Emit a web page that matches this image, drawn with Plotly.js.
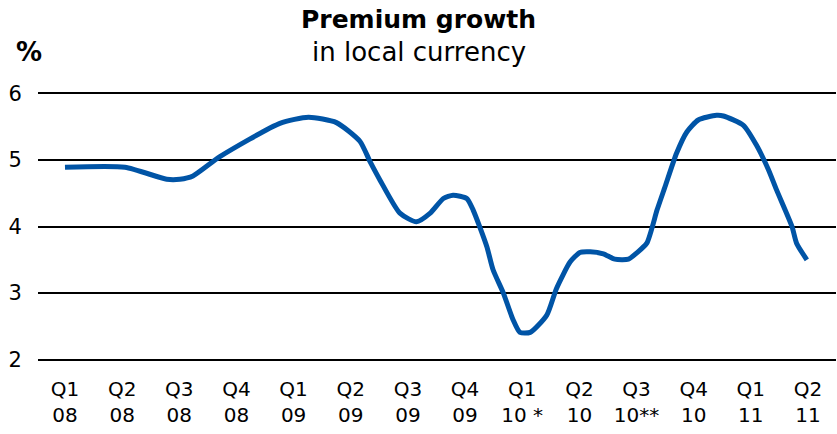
<!DOCTYPE html>
<html>
<head>
<meta charset="utf-8">
<script src="https://cdn.plot.ly/plotly-3.0.1.min.js"></script>
<style>html,body{margin:0;padding:0;background:#fff;}#chart{width:837px;height:434px;}</style>
</head>
<body>
<div id="chart"></div>
<script>
// Tick labels (quarter / year)
const quarterLabels = ['Q1','Q2','Q3','Q4','Q1','Q2','Q3','Q4','Q1','Q2','Q3','Q4','Q1','Q2'];
const yearLabels = ['08','08','08','08','09','09','09','09','10 *','10','10**','10','11','11'];
const tickPositions = [0,1,2,3,4,5,6,7,8,9,10,11,12,13];

// Series: time in quarters since Q1 08, premium growth (%)
const timeQ = [0.00,1.05,1.78,2.01,2.24,2.71,3.76,4.26,4.75,5.16,5.34,5.51,5.86,6.15,6.39,6.62,6.79,7.03,7.14,7.38,7.49,7.67,7.84,7.96,8.14,8.43,8.60,8.84,9.01,9.19,9.42,9.62,9.86,10.00,10.18,10.36,10.50,10.70,10.88,11.08,11.40,11.52,11.87,12.10,12.31,12.45,12.72,12.80,12.98];
const growth = [4.89,4.89,4.71,4.71,4.76,5.05,5.55,5.64,5.56,5.28,4.97,4.70,4.20,4.07,4.20,4.42,4.47,4.42,4.25,3.70,3.35,3.00,2.60,2.41,2.41,2.67,3.07,3.47,3.61,3.62,3.59,3.51,3.51,3.60,3.75,4.25,4.60,5.10,5.42,5.60,5.67,5.66,5.52,5.22,4.85,4.55,4.00,3.75,3.50];

const yTicks = [2,3,4,5,6];

const FONT = 'DejaVu Sans, Verdana, sans-serif';
const ticktext = quarterLabels.map((q,i)=> q + '<br>' + yearLabels[i]);

const trace = {
  x: timeQ, y: growth, type: 'scatter', mode: 'lines',
  line: {color: '#0054A6', width: 5, shape: 'spline', smoothing: 0.6},
  hoverinfo: 'none'
};

const layout = {
  width: 837, height: 434,
  margin: {l: 38, r: 1, t: 92, b: 73},
  paper_bgcolor: '#fff', plot_bgcolor: '#fff',
  showlegend: false,
  font: {family: FONT, color: '#000'},
  xaxis: {
    range: [-0.472, 13.49], tickmode: 'array', tickvals: tickPositions, ticktext: ticktext,
    showgrid: false, zeroline: false, showline: false,
    ticks: 'outside', ticklen: 10, tickcolor: 'rgba(0,0,0,0)',
    tickfont: {family: FONT, size: 20, color: '#000'}
  },
  yaxis: {
    range: [1.98, 6.02], tickmode: 'array', tickvals: yTicks,
    showgrid: true, gridcolor: '#000', gridwidth: 2,
    zeroline: false, showline: false,
    ticks: 'outside', ticklen: 11, tickcolor: 'rgba(0,0,0,0)',
    tickfont: {family: FONT, size: 21, color: '#000'}
  },
  annotations: [
    {text: '<b>Premium growth</b>', xref: 'paper', yref: 'paper', x: 0.4774, y: 1.268,
     xanchor: 'center', yanchor: 'middle', showarrow: false, font: {family: FONT, size: 25, color: '#000'}},
    {text: 'in local currency', xref: 'paper', yref: 'paper', x: 0.4774, y: 1.149,
     xanchor: 'center', yanchor: 'middle', showarrow: false, font: {family: FONT, size: 26, color: '#000'}},
    {text: '<b>%</b>', xref: 'paper', yref: 'paper', x: -0.0119, y: 1.149,
     xanchor: 'center', yanchor: 'middle', showarrow: false, font: {family: FONT, size: 26, color: '#000'}}
  ]
};

Plotly.newPlot('chart', [trace], layout, {staticPlot: true, displayModeBar: false});
</script>
</body>
</html>
